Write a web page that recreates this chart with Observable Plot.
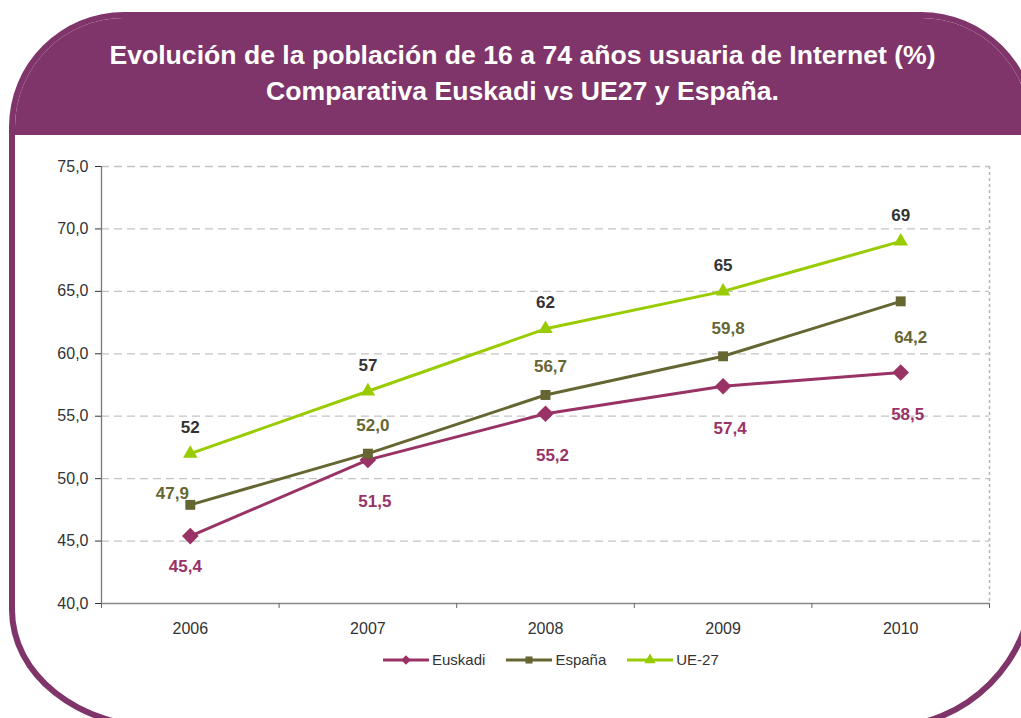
<!DOCTYPE html>
<html>
<head>
<meta charset="utf-8">
<script src="https://cdn.jsdelivr.net/npm/d3@7"></script>
<script src="https://cdn.jsdelivr.net/npm/@observablehq/plot@0.6"></script>
<style>
  html, body { margin: 0; padding: 0; background: #fff; }
  #page { position: relative; width: 1021px; height: 718px; overflow: hidden; font-family: "Liberation Sans", Arial, sans-serif; }
  #frame { position: absolute; left: 9px; top: 12px; width: 1027px; height: 718px; box-sizing: border-box;
           border: 6px solid #80356A; border-radius: 115px 115px 150px 150px / 115px 115px 150px 120px; background: #fff; overflow: hidden; }
  #header { position: absolute; left: 0; top: 0; right: 0; height: 117px; background: #80356A; }
  #title { position: absolute; left: 9px; width: 1027px; top: 37px; text-align: center; color: #fff;
           font-weight: bold; font-size: 26.6px; line-height: 36px; }
  #chart { position: absolute; left: 0; top: 130px; }
  #legend { position: absolute; top: 651px; left: 383px; display: flex; align-items: center; font-size: 15px; color: #333; }
  .item { display: flex; align-items: center; margin-right: 21px; }
  .item svg { margin-right: 3px; }
</style>
</head>
<body>
<div id="page">
  <div id="frame"><div id="header"></div></div>
  <div id="title">Evolución de la población de 16 a 74 años usuaria de Internet (%)<br>Comparativa Euskadi vs UE27 y España.</div>
  <div id="chart"></div>
  <div id="legend"></div>
</div>
<script>
const years = [2006, 2007, 2008, 2009, 2010];
const euskadi = [45.4, 51.5, 55.2, 57.4, 58.5];
const espana = [47.9, 52.0, 56.7, 59.8, 64.2];
const ue27 = [52, 57, 62, 65, 69];
const seriesNames = ["Euskadi", "España", "UE-27"];
const seriesColors = ["#993366", "#666633", "#99CC00"];
const labelColors = ["#993366", "#666633", "#333333"];
const seriesSymbols = ["diamond2", "square", "triangle"];
const yTicks = [40, 45, 50, 55, 60, 65, 70, 75];

const seriesValues = [euskadi, espana, ue27];
const rows = [];
seriesNames.forEach((s, k) => years.forEach((yr, i) => rows.push({series: s, year: yr, value: seriesValues[k][i], idx: i})));

const comma1 = v => v.toFixed(1).replace(".", ",");
const fmts = [comma1, comma1, v => String(v)];
const symR = [7.5, 5.6, 5.4];

function labels(k, idxs, dx, dy) {
  return Plot.text(rows.filter(d => d.series === seriesNames[k] && idxs.includes(d.idx)), {
    x: "year", y: "value", text: d => fmts[k](d.value), dx, dy,
    fill: labelColors[k], fontWeight: "bold", fontSize: 17
  });
}

const bounds = [2005.5, 2006.5, 2007.5, 2008.5, 2009.5, 2010.5];

const marks = [
  Plot.gridY(yTicks.slice(1), {stroke: "#c4c4c4", strokeOpacity: 1, strokeDasharray: "8,5", strokeWidth: 1.3}),
  Plot.ruleX([2010.5], {stroke: "#b8b8b8", strokeDasharray: "3,3", strokeWidth: 1.6}),
  Plot.ruleX([2005.5], {stroke: "#777", strokeWidth: 1.3}),
  Plot.ruleY([40], {stroke: "#888", strokeWidth: 1.6}),
  Plot.axisY(yTicks, {tickSize: 6, tickPadding: 7, tickFormat: comma1, fontSize: 16, color: "#333", label: null}),
  Plot.axisX(years, {tickSize: 0, tickPadding: 19, tickFormat: d => String(d), fontSize: 16, color: "#333", label: null}),
  Plot.axisX(bounds, {tickSize: 5, tickFormat: () => "", stroke: "#666", label: null})
];
seriesNames.forEach((s, k) => {
  const data = rows.filter(d => d.series === s);
  marks.push(Plot.line(data, {x: "year", y: "value", stroke: seriesColors[k], strokeWidth: 3}));
  marks.push(Plot.dot(data, {x: "year", y: "value", symbol: seriesSymbols[k], r: symR[k], fill: seriesColors[k], stroke: "none"}));
});
// Euskadi labels below
marks.push(labels(0, [0], -5, 30));
marks.push(labels(0, [1, 2, 3, 4], 7, 42));
// España labels
marks.push(labels(1, [0], -18, -11));
marks.push(labels(1, [1, 2, 3], 5, -28));
marks.push(labels(1, [4], 10, 36));
// UE-27 labels above
marks.push(labels(2, [0, 1, 2, 3, 4], 0, -26));

const chart = Plot.plot({
  width: 1021,
  height: 515,
  marginLeft: 101,
  marginRight: 32,
  marginTop: 36,
  marginBottom: 42,
  style: {fontFamily: "'Liberation Sans', Arial, sans-serif", background: "transparent", overflow: "visible"},
  x: {domain: [2005.5, 2010.5], label: null},
  y: {domain: [40, 75], label: null},
  marks
});
document.getElementById("chart").appendChild(chart);

const legend = document.getElementById("legend");
seriesNames.forEach((s, k) => {
  const item = document.createElement("div");
  item.className = "item";
  const sym = d3.symbol(d3["symbol" + {diamond2: "Diamond2", square: "Square", triangle: "Triangle"}[seriesSymbols[k]]], [60, 50, 55][k])();
  item.innerHTML = `<svg width="46" height="16"><line x1="0" x2="46" y1="8" y2="8" stroke="${seriesColors[k]}" stroke-width="3"/><path d="${sym}" transform="translate(23,8)" fill="${seriesColors[k]}"/></svg><span>${s}</span>`;
  legend.appendChild(item);
});
</script>
</body>
</html>
